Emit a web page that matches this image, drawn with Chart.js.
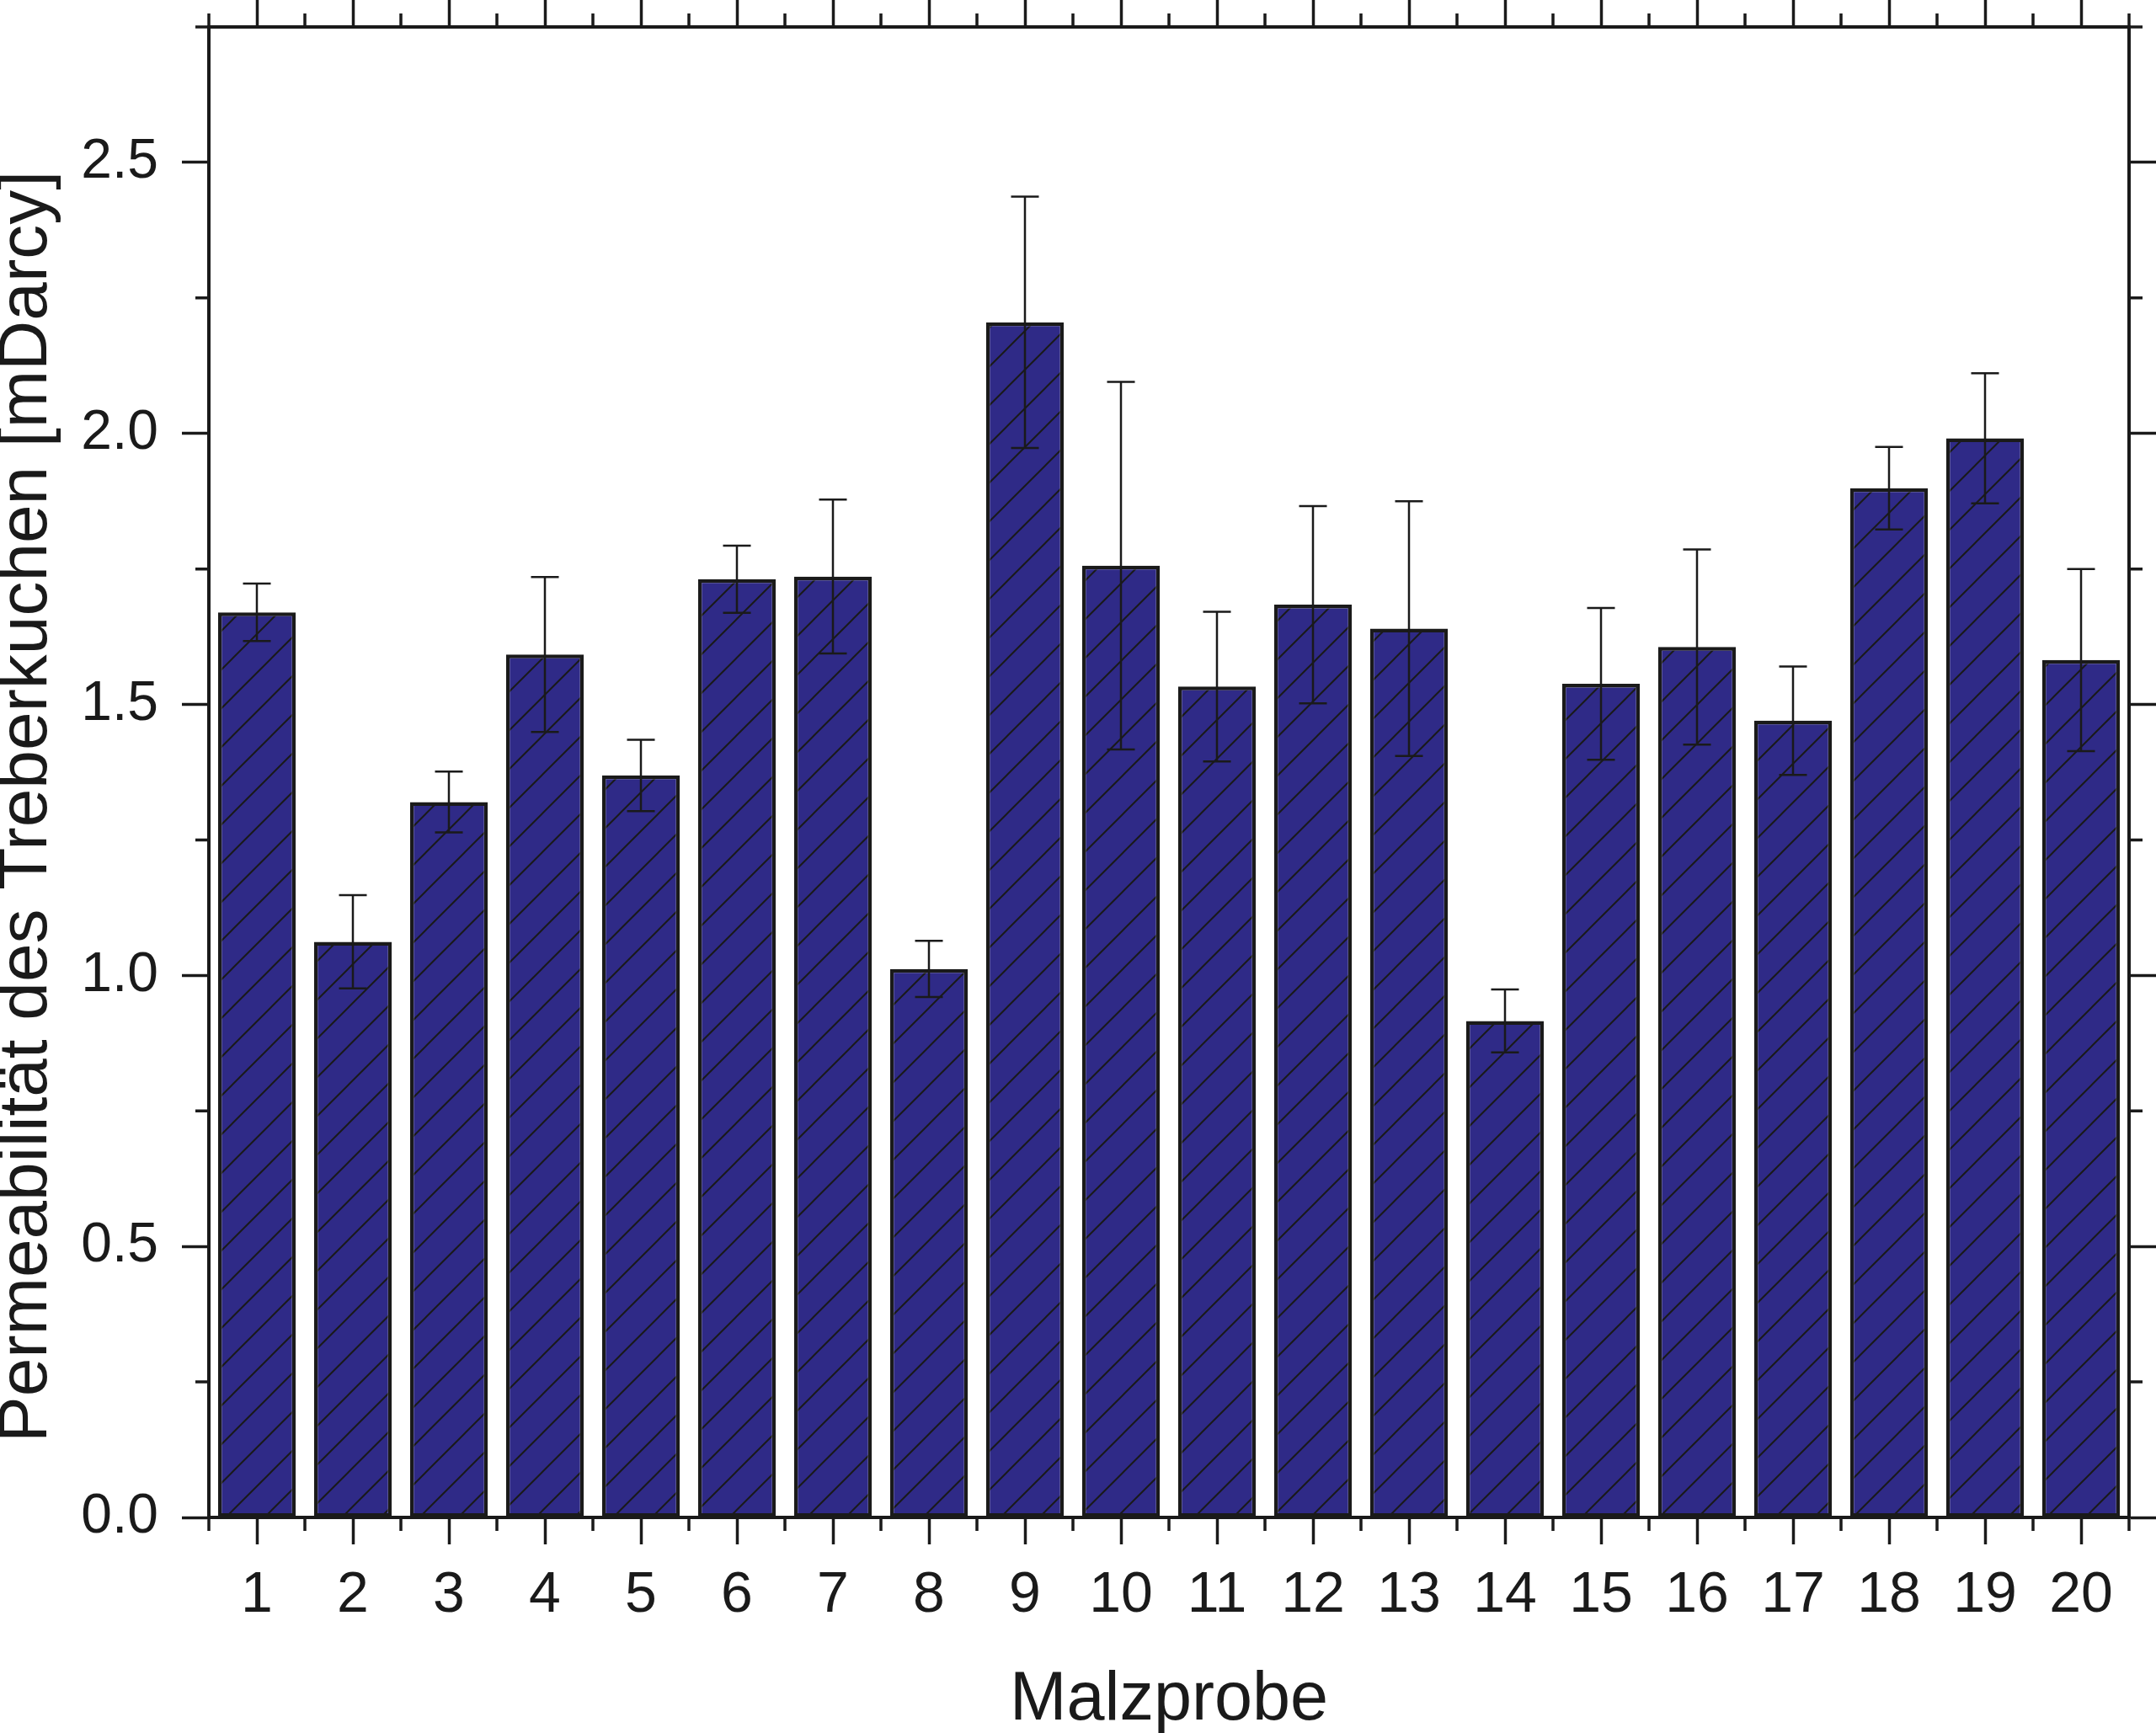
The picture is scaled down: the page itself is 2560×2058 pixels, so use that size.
<!DOCTYPE html>
<html>
<head>
<meta charset="utf-8">
<script src="https://cdn.jsdelivr.net/npm/chart.js@4.4.0/dist/chart.umd.min.js"></script>
<style>
  html, body { margin: 0; padding: 0; background: #fff; }
  #wrap { width: 2560px; height: 2058px; }
</style>
</head>
<body>
<div id="wrap"><canvas id="chart"></canvas></div>
<script>
// ===== Daten =====
const proben = ['1', '2', '3', '4', '5', '6', '7', '8', '9', '10',
                '11', '12', '13', '14', '15', '16', '17', '18', '19', '20'];
const permeabilitaet = [1.670, 1.062, 1.320, 1.592, 1.369, 1.731, 1.736, 1.012, 2.205, 1.756,
                        1.533, 1.684, 1.640, 0.916, 1.538, 1.606, 1.470, 1.899, 1.991, 1.582];
const fehler = [0.053, 0.086, 0.056, 0.143, 0.066, 0.062, 0.142, 0.052, 0.232, 0.339,
                0.138, 0.182, 0.235, 0.058, 0.140, 0.180, 0.100, 0.076, 0.120, 0.168];

const INK  = '#1a1a1a';
const BLUE = '#2f2a87';
const FONT = "'Liberation Sans', Arial, Helvetica, sans-serif";

// ===== Schraffur (/) =====
function hatch() {
  const s = 46;
  const c = document.createElement('canvas');
  c.width = s; c.height = s;
  const g = c.getContext('2d');
  g.fillStyle = BLUE;
  g.fillRect(0, 0, s, s);
  g.strokeStyle = INK;
  g.lineWidth = 2;
  g.beginPath();
  g.moveTo(-2, s + 2); g.lineTo(s + 2, -2);
  g.moveTo(-2, 2);     g.lineTo(2, -2);
  g.moveTo(s - 2, s + 2); g.lineTo(s + 2, s - 2);
  g.stroke();
  return g.createPattern(c, 'repeat');
}

// ===== Fehlerbalken =====
const errorBars = {
  id: 'errorBars',
  afterDatasetsDraw(chart) {
    const ctx = chart.ctx;
    const y = chart.scales.y;
    const meta = chart.getDatasetMeta(0);
    ctx.save();
    ctx.strokeStyle = INK;
    ctx.lineWidth = 2.5;
    ctx.beginPath();
    meta.data.forEach((bar, i) => {
      const v = permeabilitaet[i], e = fehler[i];
      const top = y.getPixelForValue(v + e);
      const bot = y.getPixelForValue(v - e);
      ctx.moveTo(bar.x, top); ctx.lineTo(bar.x, bot);
      ctx.moveTo(bar.x - 16.5, top); ctx.lineTo(bar.x + 16.5, top);
      ctx.moveTo(bar.x - 16.5, bot); ctx.lineTo(bar.x + 16.5, bot);
    });
    ctx.stroke();
    ctx.restore();
  }
};

// ===== Nebenstriche (minor ticks) auf allen vier Achsen =====
const minorTicks = {
  id: 'minorTicks',
  afterDraw(chart) {
    const { x, x2, y, y2 } = chart.scales;
    const ctx = chart.ctx;
    const len = 16;
    ctx.save();
    ctx.strokeStyle = INK;
    ctx.lineWidth = 3.5;
    ctx.beginPath();
    for (let i = 0; i <= x.ticks.length; i++) {
      const px = x.getPixelForValue(i - 0.5);
      ctx.moveTo(px, x.top);     ctx.lineTo(px, x.top + len);
      ctx.moveTo(px, x2.bottom); ctx.lineTo(px, x2.bottom - len);
    }
    y.ticks.forEach(t => {
      const py = y.getPixelForValue(t.value + 0.25);
      ctx.moveTo(y.right, py);  ctx.lineTo(y.right - len, py);
      ctx.moveTo(y2.left, py);  ctx.lineTo(y2.left + len, py);
    });
    ctx.stroke();
    ctx.restore();
  }
};

const axisLine = { display: true, color: INK, width: 4 };
const tickGrid = { display: true, drawOnChartArea: false, drawTicks: true,
                   tickLength: 32, tickWidth: 3.5, tickColor: INK, offset: false };

// feste Achsenbreiten, keine Zusatzränder für überstehende Beschriftungen
const fixSize = (w, h) => s => {
  if (w !== null) s.width = w;
  if (h !== null) s.height = h;
  s.paddingTop = 0; s.paddingBottom = 0;
  s.paddingLeft = 0; s.paddingRight = 0;
};

new Chart(document.getElementById('chart'), {
  type: 'bar',
  data: {
    labels: proben,
    datasets: [{
      data: permeabilitaet,
      backgroundColor: hatch(),
      borderColor: INK,
      borderWidth: 4.5,
      borderSkipped: false,
      barPercentage: 0.81,
      categoryPercentage: 1.0
    }]
  },
  options: {
    responsive: true,
    maintainAspectRatio: false,
    animation: false,
    devicePixelRatio: 1,
    layout: { padding: 0 },
    plugins: { legend: { display: false }, tooltip: { enabled: false } },
    scales: {
      x: {
        type: 'category',
        position: 'bottom',
        offset: true,
        grid: tickGrid,
        border: axisLine,
        ticks: { color: INK, padding: 20, maxRotation: 0, autoSkip: false,
                 font: { family: FONT, size: 68 } },
        title: { display: true, text: 'Malzprobe', color: INK,
                 padding: { top: 0, bottom: 0 },
                 font: { family: FONT, size: 81, lineHeight: 0.95 } },
        afterFit: fixSize(null, 256)
      },
      x2: {
        type: 'category',
        position: 'top',
        offset: true,
        grid: tickGrid,
        border: axisLine,
        ticks: { display: false },
        afterFit: fixSize(null, 32)
      },
      y: {
        type: 'linear',
        position: 'left',
        min: 0,
        max: 2.75,
        grid: tickGrid,
        border: axisLine,
        ticks: { stepSize: 0.5, includeBounds: false, color: INK, padding: 28,
                 font: { family: FONT, size: 66 },
                 callback: v => v.toFixed(1) },
        title: { display: true, text: 'Permeabilität des Treberkuchen [mDarcy]\u2003', color: INK,
                 padding: { top: 0, bottom: 0 },
                 font: { family: FONT, size: 82, lineHeight: 0.8 } },
        afterFit: fixSize(248, null)
      },
      y2: {
        type: 'linear',
        position: 'right',
        min: 0,
        max: 2.75,
        grid: tickGrid,
        border: axisLine,
        ticks: { display: false, stepSize: 0.5, includeBounds: false },
        afterFit: fixSize(32, null)
      }
    }
  },
  plugins: [errorBars, minorTicks]
});
</script>
</body>
</html>
